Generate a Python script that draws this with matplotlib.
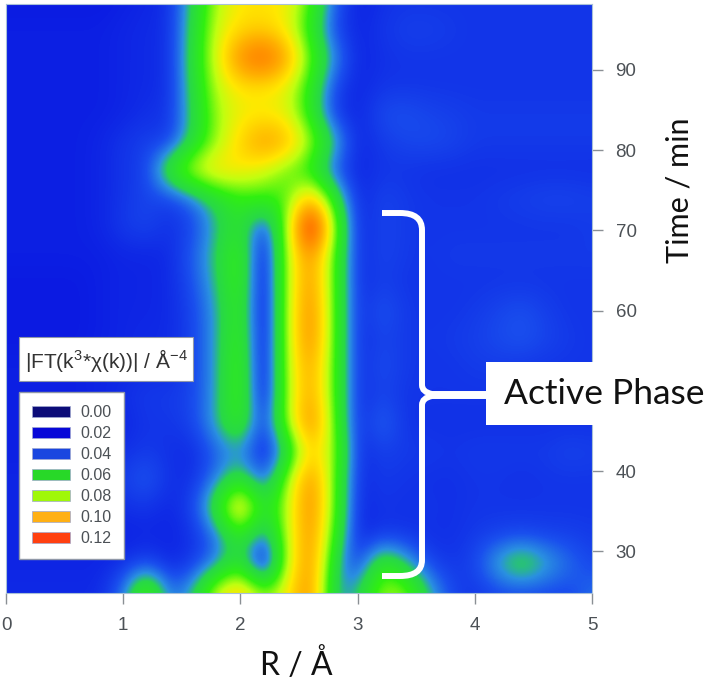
import matplotlib
matplotlib.use("Agg")
import matplotlib.pyplot as plt
import numpy as np
from matplotlib.colors import LinearSegmentedColormap, Normalize
from matplotlib.patches import Patch, PathPatch, Rectangle
from matplotlib.path import Path
from matplotlib.transforms import Affine2D

W, H = 707, 690

r_nodes = [0.0, 0.2, 0.4, 0.6, 0.8, 1.0, 1.2, 1.4, 1.6, 1.8, 2.0, 2.2, 2.4,
           2.6, 2.8, 3.0, 3.2, 3.4, 3.6, 3.8, 4.0, 4.2, 4.4, 4.6, 4.8, 5.0]
t_nodes = [25, 28.5, 32, 35.5, 39, 42.5, 46, 49.5, 53, 56.5, 60, 63.5, 67,
           70.5, 74, 77.5, 81, 84.5, 88, 91.5, 95, 98.5]

# |FT|, one row per time (bottom to top), one column per R
ft_rows = [
    [.025, .025, .025, .025, .025, .036, .072, .034, .045, .080, .095, .068, .084, .110, .040, .044, .072, .072, .046, .030, .027, .030, .030, .030, .030, .036],
    [.024, .024, .024, .024, .024, .026, .030, .024, .028, .038, .055, .012, .074, .110, .048, .026, .060, .046, .030, .027, .030, .045, .056, .045, .036, .030],
    [.024, .024, .024, .024, .024, .023, .024, .024, .026, .036, .058, .034, .074, .110, .060, .024, .027, .027, .026, .026, .028, .029, .030, .029, .029, .028],
    [.024, .024, .024, .024, .024, .026, .027, .024, .030, .056, .098, .052, .074, .112, .066, .024, .027, .026, .027, .026, .027, .027, .027, .027, .027, .027],
    [.024, .024, .024, .024, .025, .029, .034, .026, .026, .038, .054, .030, .070, .110, .066, .025, .028, .027, .026, .026, .027, .027, .026, .027, .027, .027],
    [.023, .023, .023, .023, .024, .026, .028, .026, .025, .034, .040, .022, .044, .092, .072, .025, .029, .028, .028, .027, .028, .028, .028, .028, .030, .029],
    [.023, .023, .023, .023, .023, .024, .027, .027, .030, .044, .062, .024, .072, .112, .066, .024, .036, .027, .026, .026, .026, .026, .026, .026, .026, .026],
    [.023, .023, .023, .023, .024, .026, .028, .028, .030, .042, .066, .016, .072, .104, .064, .025, .030, .027, .027, .027, .027, .027, .027, .027, .027, .027],
    [.023, .023, .023, .023, .024, .024, .025, .025, .030, .042, .066, .015, .074, .104, .064, .025, .032, .028, .027, .027, .028, .028, .027, .027, .027, .027],
    [.022, .022, .022, .022, .023, .024, .025, .025, .030, .042, .064, .015, .074, .112, .064, .025, .030, .028, .027, .028, .029, .031, .033, .030, .028, .027],
    [.022, .022, .022, .022, .023, .024, .024, .025, .030, .042, .062, .015, .074, .112, .064, .025, .033, .028, .027, .027, .028, .030, .032, .029, .027, .027],
    [.022, .022, .022, .022, .023, .024, .024, .025, .032, .045, .064, .015, .074, .108, .064, .025, .029, .027, .027, .027, .027, .027, .027, .027, .027, .027],
    [.023, .023, .023, .023, .023, .024, .024, .025, .034, .047, .064, .016, .074, .108, .064, .025, .030, .028, .027, .028, .028, .028, .028, .028, .028, .028],
    [.023, .023, .023, .023, .024, .028, .030, .026, .030, .044, .056, .026, .070, .148, .070, .024, .030, .028, .027, .027, .027, .027, .027, .027, .027, .028],
    [.023, .023, .023, .023, .024, .027, .030, .028, .036, .050, .060, .062, .064, .096, .056, .024, .030, .028, .027, .027, .027, .028, .029, .030, .030, .029],
    [.023, .023, .023, .023, .024, .027, .029, .060, .080, .088, .085, .078, .066, .056, .032, .024, .027, .027, .026, .026, .026, .026, .026, .026, .026, .026],
    [.023, .023, .023, .023, .024, .027, .029, .028, .050, .072, .090, .106, .098, .074, .046, .024, .028, .030, .031, .030, .028, .028, .028, .028, .028, .028],
    [.023, .023, .023, .023, .023, .024, .026, .027, .048, .072, .082, .083, .080, .056, .028, .024, .031, .032, .030, .029, .028, .028, .028, .028, .028, .028],
    [.023, .023, .023, .023, .023, .024, .025, .026, .050, .076, .086, .086, .080, .058, .030, .024, .027, .027, .027, .027, .027, .027, .027, .027, .027, .027],
    [.023, .023, .023, .023, .023, .024, .025, .026, .052, .080, .110, .122, .102, .066, .040, .024, .026, .027, .027, .027, .027, .027, .027, .027, .027, .027],
    [.023, .023, .023, .023, .023, .024, .025, .026, .050, .078, .088, .090, .082, .056, .030, .024, .027, .029, .029, .028, .027, .027, .027, .027, .027, .027],
    [.022, .022, .022, .022, .022, .023, .024, .026, .048, .074, .085, .086, .084, .064, .034, .023, .026, .027, .027, .027, .027, .027, .027, .027, .027, .027],
]

legend_values = ["0.00", "0.02", "0.04", "0.06", "0.08", "0.10", "0.12"]
legend_colors = ["#0c0c78", "#0808d8", "#1a46e0", "#28d828", "#a0f808", "#ffb014", "#ff4010"]

x_ticks = [0, 1, 2, 3, 4, 5]
y_ticks = [30, 40, 50, 60, 70, 80, 90]
y_ticklabels = ["30", "40", "", "60", "70", "80", "90"]

cmap_stops = [(0.0, "#000078"), (0.02, "#0810e0"), (0.032, "#1a50ee"), (0.040, "#2a90e0"),
              (0.047, "#28d848"), (0.062, "#30f010"), (0.075, "#c0ff10"), (0.085, "#ffe800"),
              (0.098, "#ffb000"), (0.112, "#ff7c00"), (0.128, "#ff1400"), (0.15, "#e00000")]

GREY = "#4c5156"
LABEL_FONT = ["Lato", "DejaVu Sans"]
plt.rcParams["font.family"] = ["Liberation Sans", "DejaVu Sans"]
plt.rcParams["mathtext.fontset"] = "custom"
plt.rcParams["mathtext.rm"] = "Liberation Sans"
plt.rcParams["mathtext.it"] = "Liberation Sans"

fig = plt.figure(figsize=(W / 100, H / 100), dpi=100)
ax = fig.add_axes([6 / W, 1 - 593 / H, 586 / W, 589 / H])

# everything overlaid on the map is placed in image pixels, y down
px = Affine2D().scale(1, -1).translate(0, H)

vmax = cmap_stops[-1][0]
cmap = LinearSegmentedColormap.from_list("ft", [(v / vmax, c) for v, c in cmap_stops], N=512)
ft = np.array(ft_rows)
dr = r_nodes[1] - r_nodes[0]
dt = t_nodes[1] - t_nodes[0]
ax.imshow(ft, origin="lower", aspect="auto", cmap=cmap, norm=Normalize(0, vmax),
          interpolation="bicubic", interpolation_stage="data",
          extent=[r_nodes[0] - dr / 2, r_nodes[-1] + dr / 2, t_nodes[0] - dt / 2, t_nodes[-1] + dt / 2])
ax.set_xlim(0.0, 5.0)
ax.set_ylim(24.8, 98.2)

ax.yaxis.tick_right()
ax.set_xticks(x_ticks)
ax.set_yticks(y_ticks)
ax.set_yticklabels(y_ticklabels)
ax.tick_params(length=8, width=1, color="#8a8f94", labelcolor=GREY, labelsize=13.5, pad=9)
for s in ax.spines.values():
    s.set_color("#a8c0d8")
    s.set_linewidth(0.8)

fig.text(296 / W, 1 - 665 / H, "R / Å", family=LABEL_FONT, fontsize=23, color="#111111", ha="center", va="center")
fig.text(679 / W, 1 - 190 / H, "Time / min", family=LABEL_FONT, fontsize=22, color="#111111",
         rotation=90, ha="center", va="center")

# colour legend and its title box
title_box = Rectangle((19, 337), 174, 44, transform=px, facecolor="white", edgecolor="#9098a8", lw=0.8, zorder=3)
fig.add_artist(title_box)
fig.text(106 / W, 1 - 360 / H, r"|FT(k$^{3}$*$\chi$(k))| / Å$^{-4}$", fontsize=15, color="#333333",
         ha="center", va="center", zorder=4)
handles = [Patch(facecolor=c, edgecolor="#a0a8d0", linewidth=0.5, label=v) for v, c in zip(legend_values, legend_colors)]
leg = fig.legend(handles=handles, loc="lower left", bbox_to_anchor=(19 / W, 1 - 559 / H), borderaxespad=0,
                 fontsize=11.5, labelcolor=GREY, fancybox=False, framealpha=1, edgecolor="#9098a8",
                 handlelength=2.4, handleheight=0.72, handletextpad=0.62, labelspacing=0.38, borderpad=0.8)
leg.set_zorder(3)

# bracket and its label
label_box = Rectangle((486, 362), 221, 63, transform=px, facecolor="white", edgecolor="none", zorder=3)
fig.add_artist(label_box)
bracket_top = Path([(382, 213), (400, 213), (422, 213), (422, 230), (422, 385), (422, 392), (432, 394), (486, 394)],
                   [Path.MOVETO, Path.LINETO, Path.CURVE3, Path.CURVE3, Path.LINETO, Path.CURVE3, Path.CURVE3, Path.LINETO])
bracket_bottom = Path([(382, 576), (400, 576), (422, 576), (422, 560), (422, 405), (422, 398), (432, 396), (486, 396)],
                      [Path.MOVETO, Path.LINETO, Path.CURVE3, Path.CURVE3, Path.LINETO, Path.CURVE3, Path.CURVE3, Path.LINETO])
for p in (bracket_top, bracket_bottom):
    fig.add_artist(PathPatch(p, transform=px, facecolor="none", edgecolor="white", lw=4.3, capstyle="butt", zorder=3))
fig.text(604 / W, 1 - 394 / H, "Active Phase", family=LABEL_FONT, fontsize=25.5, color="#111111",
         ha="center", va="center", zorder=4)

fig.savefig("out.png", dpi=100)
plt.close(fig)
